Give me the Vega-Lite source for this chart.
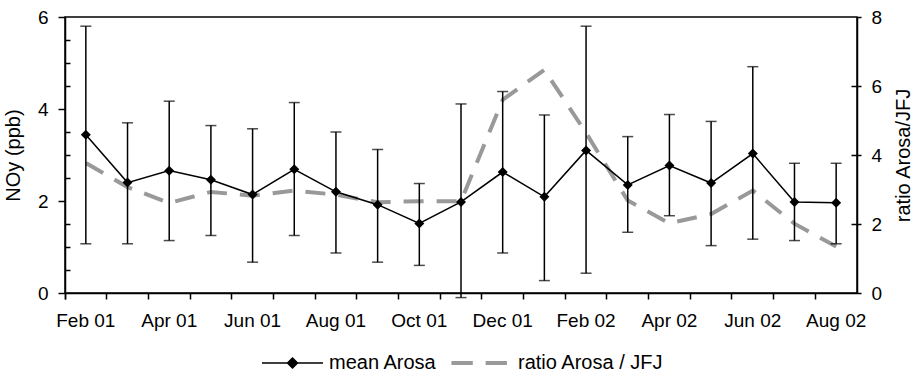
{
  "$schema": "https://vega.github.io/schema/vega-lite/v6.json",
  "width": 792,
  "height": 276,
  "autosize": "none",
  "padding": {"left": 65, "top": 17, "right": 56, "bottom": 90},
  "background": "white",
  "config": {
    "view": {"stroke": "black", "strokeWidth": 1.5},
    "font": "Liberation Sans",
    "axis": {
      "domainColor": "black", "domainWidth": 1.5, "tickColor": "black", "tickWidth": 1.5,
      "labelColor": "black", "labelFont": "Liberation Sans", "labelFontSize": 19,
      "titleFont": "Liberation Sans", "titleFontSize": 20, "titleFontWeight": "normal", "titleColor": "black",
      "grid": false, "labelFlush": false
    }
  },
  "data": {"values": [
    {"month": "Feb 01", "series": "mean Arosa", "value": 3.44, "lo": 1.07, "hi": 5.80},
    {"month": "Mar 01", "series": "mean Arosa", "value": 2.40, "lo": 1.07, "hi": 3.70},
    {"month": "Apr 01", "series": "mean Arosa", "value": 2.66, "lo": 1.14, "hi": 4.17},
    {"month": "May 01", "series": "mean Arosa", "value": 2.46, "lo": 1.25, "hi": 3.64},
    {"month": "Jun 01", "series": "mean Arosa", "value": 2.14, "lo": 0.67, "hi": 3.57},
    {"month": "Jul 01", "series": "mean Arosa", "value": 2.69, "lo": 1.25, "hi": 4.14},
    {"month": "Aug 01", "series": "mean Arosa", "value": 2.20, "lo": 0.87, "hi": 3.50},
    {"month": "Sep 01", "series": "mean Arosa", "value": 1.92, "lo": 0.67, "hi": 3.12},
    {"month": "Oct 01", "series": "mean Arosa", "value": 1.51, "lo": 0.60, "hi": 2.38},
    {"month": "Nov 01", "series": "mean Arosa", "value": 1.98, "lo": -0.10, "hi": 4.11},
    {"month": "Dec 01", "series": "mean Arosa", "value": 2.63, "lo": 0.87, "hi": 4.38},
    {"month": "Jan 02", "series": "mean Arosa", "value": 2.09, "lo": 0.27, "hi": 3.87},
    {"month": "Feb 02", "series": "mean Arosa", "value": 3.10, "lo": 0.43, "hi": 5.80},
    {"month": "Mar 02", "series": "mean Arosa", "value": 2.35, "lo": 1.32, "hi": 3.40},
    {"month": "Apr 02", "series": "mean Arosa", "value": 2.77, "lo": 1.68, "hi": 3.88},
    {"month": "May 02", "series": "mean Arosa", "value": 2.39, "lo": 1.03, "hi": 3.73},
    {"month": "Jun 02", "series": "mean Arosa", "value": 3.03, "lo": 1.17, "hi": 4.92},
    {"month": "Jul 02", "series": "mean Arosa", "value": 1.98, "lo": 1.14, "hi": 2.82},
    {"month": "Aug 02", "series": "mean Arosa", "value": 1.96, "lo": 1.07, "hi": 2.82},
    {"month": "Feb 01", "series": "ratio Arosa / JFJ", "value": 3.77},
    {"month": "Mar 01", "series": "ratio Arosa / JFJ", "value": 3.07},
    {"month": "Apr 01", "series": "ratio Arosa / JFJ", "value": 2.61},
    {"month": "May 01", "series": "ratio Arosa / JFJ", "value": 2.93},
    {"month": "Jun 01", "series": "ratio Arosa / JFJ", "value": 2.82},
    {"month": "Jul 01", "series": "ratio Arosa / JFJ", "value": 2.97},
    {"month": "Aug 01", "series": "ratio Arosa / JFJ", "value": 2.85},
    {"month": "Sep 01", "series": "ratio Arosa / JFJ", "value": 2.63},
    {"month": "Oct 01", "series": "ratio Arosa / JFJ", "value": 2.66},
    {"month": "Nov 01", "series": "ratio Arosa / JFJ", "value": 2.66},
    {"month": "Dec 01", "series": "ratio Arosa / JFJ", "value": 5.60},
    {"month": "Jan 02", "series": "ratio Arosa / JFJ", "value": 6.47},
    {"month": "Feb 02", "series": "ratio Arosa / JFJ", "value": 4.64},
    {"month": "Mar 02", "series": "ratio Arosa / JFJ", "value": 2.68},
    {"month": "Apr 02", "series": "ratio Arosa / JFJ", "value": 2.02},
    {"month": "May 02", "series": "ratio Arosa / JFJ", "value": 2.29},
    {"month": "Jun 02", "series": "ratio Arosa / JFJ", "value": 2.97},
    {"month": "Jul 02", "series": "ratio Arosa / JFJ", "value": 2.01},
    {"month": "Aug 02", "series": "ratio Arosa / JFJ", "value": 1.35}
  ]},
  "encoding": {
    "x": {
      "field": "month", "type": "ordinal", "sort": null, "bandPosition": 0.5,
      "scale": {"type": "band", "paddingInner": 0, "paddingOuter": 0},
      "axis": {
        "title": null, "bandPosition": 0, "tickExtra": true, "tickSize": 6, "labelPadding": 12,
        "labelAngle": 0, "labelOverlap": false,
        "labelExpr": "indexof(['Feb 01','Apr 01','Jun 01','Aug 01','Oct 01','Dec 01','Feb 02','Apr 02','Jun 02','Aug 02'], datum.value) >= 0 ? datum.label : ''"
      }
    }
  },
  "layer": [
    {
      "transform": [{"filter": "datum.series === 'ratio Arosa / JFJ'"}],
      "mark": {"type": "line", "strokeWidth": 4, "strokeDash": [20, 13], "strokeCap": "butt"},
      "encoding": {
        "y": {"field": "value", "type": "quantitative", "scale": {"domain": [0, 8], "nice": false, "zero": false},
          "axis": {"orient": "right", "values": [0, 2, 4, 6, 8], "tickSize": 4, "labelPadding": 10,
            "title": "ratio Arosa/JFJ", "titleAngle": 270, "titleBaseline": "top", "titlePadding": 12}},
        "color": {"field": "series", "type": "nominal",
          "scale": {"domain": ["mean Arosa", "ratio Arosa / JFJ"], "range": ["black", "#999999"]},
          "legend": {
            "title": null, "orient": "none", "legendX": 197, "legendY": 336, "direction": "horizontal",
            "symbolSize": 3721, "symbolType": "stroke", "labelFontSize": 20, "labelFont": "Liberation Sans",
            "labelColor": "black", "columnPadding": 6,
            "encode": {
              "symbols": {"update": {
                "x": {"value": 30.5},
                "shape": {"signal": "datum.value === 'mean Arosa' ? 'M-1,0L1,0M0,-0.164L0.164,0L0,0.164L-0.164,0Z' : 'M-0.92,0L-0.22,0M0.2,0L0.9,0'"},
                "fill": {"signal": "datum.value === 'mean Arosa' ? 'black' : 'transparent'"},
                "stroke": {"signal": "datum.value === 'mean Arosa' ? 'black' : '#999999'"},
                "strokeWidth": {"signal": "datum.value === 'mean Arosa' ? 1.5 : 4"},
                "opacity": {"value": 1}
              }},
              "labels": {"update": {"x": {"signal": "datum.value === 'mean Arosa' ? 67 : 69"}}}
            }
          }}
      }
    },
    {
      "transform": [{"filter": "datum.series === 'mean Arosa'"}],
      "mark": {"type": "rule", "color": "black", "strokeWidth": 1.5},
      "encoding": {
        "y": {"field": "lo", "type": "quantitative", "scale": {"domain": [0, 6], "nice": false, "zero": false},
          "axis": {"orient": "left", "values": [0.5, 1, 1.5, 2.5, 3, 3.5, 4.5, 5, 5.5], "tickSize": -5, "labels": false, "domain": false, "title": null}},
        "y2": {"field": "hi"}
      }
    },
    {
      "transform": [{"filter": "datum.series === 'mean Arosa'"}],
      "mark": {"type": "tick", "color": "black", "size": 11, "thickness": 1.5, "orient": "horizontal"},
      "encoding": {
        "y": {"field": "lo", "type": "quantitative", "scale": {"domain": [0, 6], "nice": false, "zero": false},
          "axis": {"orient": "right", "values": [1.5, 3, 4.5], "tickSize": -6, "labels": false, "domain": false, "title": null}}
      }
    },
    {
      "transform": [{"filter": "datum.series === 'mean Arosa'"}],
      "mark": {"type": "tick", "color": "black", "size": 11, "thickness": 1.5, "orient": "horizontal"},
      "encoding": {
        "y": {"field": "hi", "type": "quantitative", "scale": {"domain": [0, 6], "nice": false, "zero": false}, "axis": null}
      }
    },
    {
      "transform": [{"filter": "datum.series === 'mean Arosa'"}],
      "mark": {"type": "line", "strokeWidth": 1.5},
      "encoding": {
        "y": {"field": "value", "type": "quantitative", "scale": {"domain": [0, 6], "nice": false, "zero": false},
          "axis": {"orient": "left", "values": [0, 2, 4, 6], "tickSize": 7, "labelPadding": 10, "title": "NOy (ppb)", "titlePadding": 14}},
        "color": {"field": "series", "type": "nominal",
          "scale": {"domain": ["mean Arosa", "ratio Arosa / JFJ"], "range": ["black", "#999999"]}}
      }
    },
    {
      "transform": [{"filter": "datum.series === 'mean Arosa'"}],
      "mark": {"type": "point", "shape": "diamond", "filled": true, "size": 100, "color": "black", "opacity": 1},
      "encoding": {
        "y": {"field": "value", "type": "quantitative", "scale": {"domain": [0, 6], "nice": false, "zero": false}, "axis": null}
      }
    }
  ],
  "resolve": {"scale": {"y": "independent"}}
}
